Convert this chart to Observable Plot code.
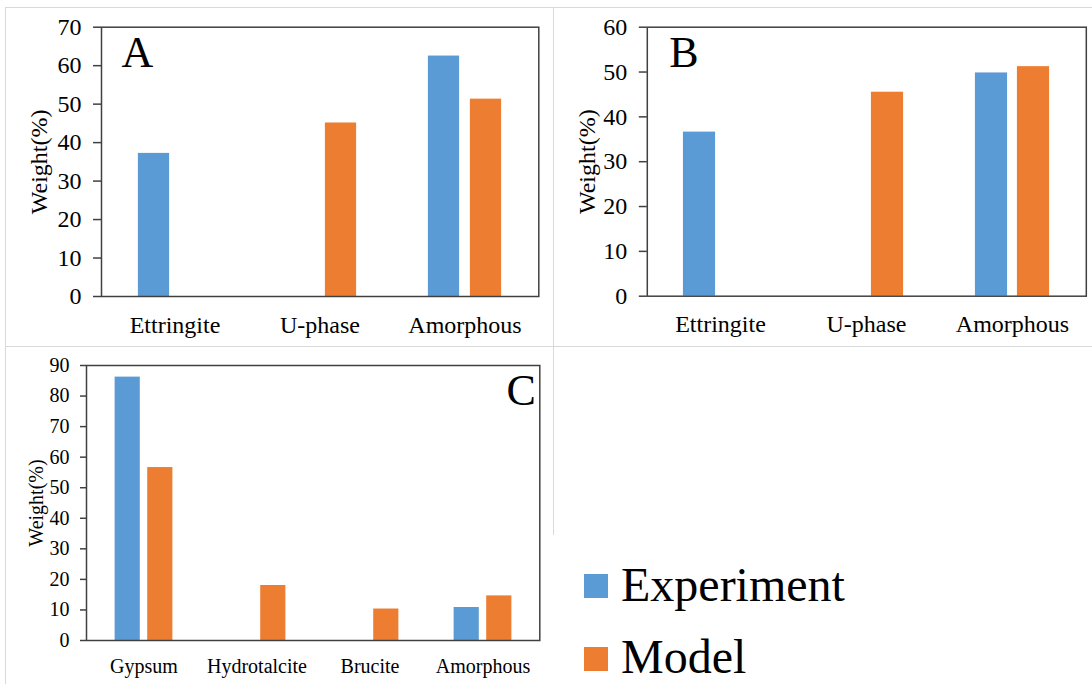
<!DOCTYPE html>
<html><head><meta charset="utf-8">
<script src="https://cdn.jsdelivr.net/npm/d3@7"></script>
<script src="https://cdn.jsdelivr.net/npm/@observablehq/plot@0.6"></script>
<style>
body{margin:0;background:#fff;}
#root{position:relative;width:1092px;height:684px;overflow:hidden;background:#fff;font-family:"Liberation Serif","Times New Roman",serif;}
#root svg, #root svg text, #root svg g{font-family:"Liberation Serif","Times New Roman",serif !important;}
.ln{position:absolute;background:#d9d9d9;}
.lg{position:absolute;font-size:48px;line-height:48px;color:#000;white-space:nowrap;}
.sw{position:absolute;width:24px;height:24px;}
</style></head><body><div id="root"></div>
<script>
// ---- data ----
const series = ["Experiment", "Model"];
const colors = ["#5B9BD5", "#ED7D31"];
const catsA = ["Ettringite", "U-phase", "Amorphous"];
const expA = [37.2, 0, 62.5];
const modA = [0, 45.1, 51.3];
const ticksA = [0, 10, 20, 30, 40, 50, 60, 70];
const catsB = ["Ettringite", "U-phase", "Amorphous"];
const expB = [36.6, 0, 49.8];
const modB = [0, 45.5, 51.2];
const ticksB = [0, 10, 20, 30, 40, 50, 60];
const catsC = ["Gypsum", "Hydrotalcite", "Brucite", "Amorphous"];
const expC = [86.2, 0, 0, 10.8];
const modC = [56.6, 18.0, 10.3, 14.6];
const ticksC = [0, 10, 20, 30, 40, 50, 60, 70, 80, 90];
const yLabel = "Weight(%)";

const root = document.getElementById("root");
const FONT = "Liberation Serif, Times New Roman, serif";

// cell borders
[[5,7,1087,1],[5,7,1,677],[553,7,1,528],[5,346,1087,1]].forEach(([l,t,w,h]) => {
  const d = document.createElement("div");
  d.className = "ln";
  Object.assign(d.style, {left:l+"px", top:t+"px", width:w+"px", height:h+"px"});
  root.appendChild(d);
});

function panel(o) {
  const rows = o.cats.flatMap((c, i) => [
    {cat: c, series: series[0], value: o.exp[i]},
    {cat: c, series: series[1], value: o.mod[i]}
  ]);
  const bw = (o.width - o.ml - o.mr) / o.cats.length;
  const bars = (s, sign) => Plot.barY(rows.filter(d => d.series === s && d.value > 0), {
    x: "cat", y: "value", fill: "series",
    insetLeft: bw / 2 + sign * o.off - o.barW / 2,
    insetRight: bw / 2 - sign * o.off - o.barW / 2
  });
  const svg = Plot.plot({
    width: o.width, height: o.height,
    marginLeft: o.ml, marginRight: o.mr, marginTop: o.mt, marginBottom: o.mb,
    style: {fontFamily: FONT, fontSize: o.fs + "px", color: "#000", background: "transparent", overflow: "visible"},
    x: {domain: o.cats, padding: 0, axis: null},
    y: {domain: [0, o.ticks[o.ticks.length - 1]], axis: null},
    color: {domain: series, range: colors},
    marks: [
      bars(series[0], -1),
      bars(series[1], 1),
      Plot.axisY({ticks: o.ticks, tickSize: o.tickSize, tickPadding: o.tickPad, tickFormat: d => d, label: null, stroke: "#404040", strokeWidth: 1.5, fontSize: o.fs, fontFamily: FONT}),
      Plot.axisX({tickSize: 0, tickPadding: o.xPad, label: null, fontSize: o.fs, fontFamily: FONT}),
      Plot.frame({stroke: "#404040", strokeWidth: 1.5}),
      Plot.text([yLabel], {text: d => d, frameAnchor: "left", dx: o.yLabelDx, rotate: -90, textAnchor: "middle", lineAnchor: "middle", fontSize: o.fs, fontFamily: FONT}),
      Plot.text([o.letter], {text: d => d, frameAnchor: o.letterAnchor, dx: o.letterDx, dy: o.letterDy, textAnchor: o.letterAnchor === "top-left" ? "start" : "end", lineAnchor: "top", fontSize: 44, fontFamily: FONT})
    ]
  });
  Object.assign(svg.style, {position: "absolute", left: o.left + "px", top: o.top + "px"});
  root.appendChild(svg);
}

panel({cats: catsA, exp: expA, mod: modA, ticks: ticksA, letter: "A",
  left: 0, top: 0, width: 553, height: 346, ml: 101, mr: 14.7, mt: 26.7, mb: 50,
  fs: 24, barW: 32, off: 21, tickSize: 8, tickPad: 12, xPad: 19, yLabelDx: -62,
  letterAnchor: "top-left", letterDx: 20, letterDy: 9});

panel({cats: catsB, exp: expB, mod: modB, ticks: ticksB, letter: "B",
  left: 553, top: 0, width: 539, height: 346, ml: 93.8, mr: 6.2, mt: 26.7, mb: 50.3,
  fs: 24, barW: 32.5, off: 21, tickSize: 8, tickPad: 12, xPad: 19, yLabelDx: -60,
  letterAnchor: "top-left", letterDx: 22, letterDy: 9});

panel({cats: catsC, exp: expC, mod: modC, ticks: ticksC, letter: "C",
  left: 0, top: 346, width: 553, height: 338, ml: 86, mr: 13.7, mt: 19, mb: 44,
  fs: 20, barW: 25.5, off: 16.3, tickSize: 6, tickPad: 11, xPad: 18, yLabelDx: -50,
  letterAnchor: "top-right", letterDx: -4, letterDy: 8});

// legend
series.forEach((s, i) => {
  const sw = document.createElement("div");
  sw.className = "sw";
  Object.assign(sw.style, {left: "584px", top: (574 + i * 73) + "px", background: colors[i]});
  root.appendChild(sw);
  const t = document.createElement("div");
  t.className = "lg";
  t.textContent = s;
  Object.assign(t.style, {left: "621px", top: (561 + i * 72) + "px"});
  root.appendChild(t);
});
</script></body></html>
